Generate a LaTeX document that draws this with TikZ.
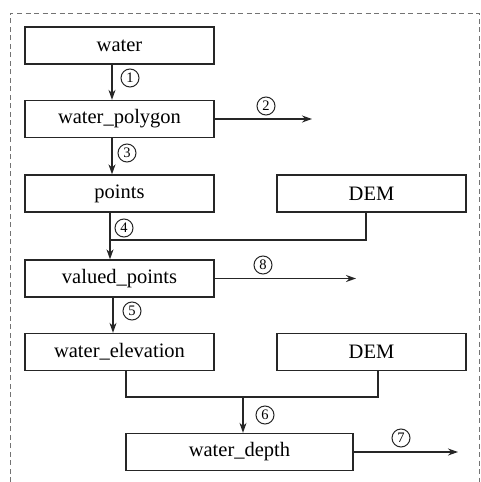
\documentclass[tikz,border=0pt]{standalone}
\usepackage{fontspec}
\setmainfont{Liberation Serif}
\usetikzlibrary{arrows.meta,calc}
\tikzset{
  box/.style={draw=black!85, line width=1.3pt, minimum width=189pt, minimum height=37pt,
    inner sep=0pt, font=\fontsize{20.5}{22}\selectfont},
  link/.style={draw=black!85, line width=1.3pt},
  arr/.style={link, -{Stealth[length=10pt,width=7pt]}},
  num/.style={circle, draw=black!85, line width=1pt, minimum size=18pt, inner sep=0pt,
    font=\fontsize{14.5}{14.5}\selectfont},
  frame/.style={draw=black!55, line width=1pt, dash pattern=on 5pt off 3.5pt}
}
\begin{document}
\begin{tikzpicture}[x=1pt, y=-1pt]
\useasboundingbox (0,0) rectangle (481,482);
% outer dashed frame, open at the bottom
\draw[frame] (10,482) -- (10,13) -- (479,13) -- (479,482);

% process boxes
\node[box] (water)  at (119.5,45.5) {water};
\node[box] (wpoly)  at (119.5,119)  {water\_polygon};
\node[box] (points) at (119.5,193.5) {points};
\node[box] (dema)   at (371.5,193.5) {DEM};
\node[box] (valued) at (119.5,278.5) {valued\_points};
\node[box] (welev)  at (119.5,352)  {water\_elevation};
\node[box] (demb)   at (371.5,352)  {DEM};
\node[box, minimum width=227pt] (wdepth) at (239.5,452) {water\_depth};

% routing coordinates
\coordinate (c1) at (112,0);
\coordinate (e2) at (312,0);
\coordinate (j4) at (110,240);
\coordinate (dx) at (366,0);
\coordinate (e8) at (356,0);
\coordinate (c5) at (113,0);
\coordinate (ja) at (126,397);
\coordinate (jb) at (378,397);
\coordinate (c6) at (243,397);
\coordinate (e7) at (458,0);

% connectors
\draw[arr] (water.south -| c1) -- (wpoly.north -| c1);
\draw[arr] (wpoly.east) -- (wpoly.east -| e2);
\draw[arr] (wpoly.south -| c1) -- (points.north -| c1);
\draw[link] (dema.south -| dx) |- (j4);
\draw[arr] (points.south -| j4) -- (valued.north -| j4);
\draw[arr] (valued.east) -- (valued.east -| e8);
\draw[arr] (valued.south -| c5) -- (welev.north -| c5);
\draw[link] (welev.south -| ja) -- (ja) -- (jb) -- (demb.south -| jb);
\draw[arr] (c6) -- (wdepth.north -| c6);
\draw[arr] (wdepth.east) -- (wdepth.east -| e7);

% step numbers
\node[num] (n1) at (130,78)  {1};
\node[num] (n2) at (266,106) {2};
\node[num] (n3) at (127,153) {3};
\node[num] (n4) at (124,228) {4};
\node[num] (n8) at (263,265) {8};
\node[num] (n5) at (132,311) {5};
\node[num] (n6) at (265,415) {6};
\node[num] (n7) at (401,438) {7};
\end{tikzpicture}
\end{document}
